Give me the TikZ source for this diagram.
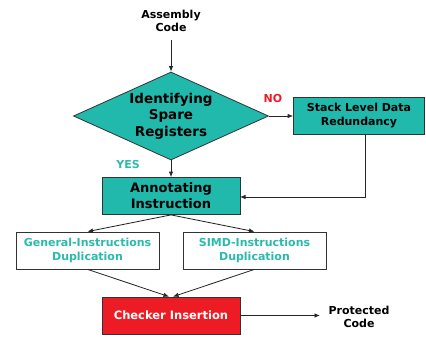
\documentclass[tikz,border=0pt]{standalone}
\usepackage{fontspec}
\setmainfont{DejaVu Sans}
\usetikzlibrary{shapes.geometric,arrows.meta}
\definecolor{tealfill}{HTML}{20B9AC}
\definecolor{tealtext}{HTML}{2BBBAD}
\definecolor{redfill}{HTML}{ED1C24}
\begin{document}
\begin{tikzpicture}[x=1pt,y=-1pt,
  every node/.style={align=center, inner sep=0pt},
  box/.style={draw=black!80, line width=0.8pt, minimum width=#1, minimum height=37pt},
  box/.default=138pt,
  arr/.style={-{Latex[length=5.5pt,width=4.5pt]}, line width=0.8pt, draw=black!85},
  fs/.style 2 args={font=\bfseries\fontsize{#1}{#2}\selectfont}]
\useasboundingbox (0,0) rectangle (426,337);

% input and decision
\node[fs={11}{13}] (in) at (171,21) {Assembly\\Code};
\node[diamond, aspect=2.2, fill=tealfill, draw=black!80, line width=0.8pt,
      minimum width=195pt, minimum height=88pt] (dec) at (171,116) {};
\node[fs={13.5}{16.5}] at (dec) {Identifying\\Spare\\Registers};

% process boxes
\node[box, fill=tealfill, minimum width=131pt, fs={11}{14}] (stack) at (359,116) {Stack Level Data\\Redundancy};
\node[box, fill=tealfill, fs={13}{16}] (ann) at (171,196) {Annotating\\Instruction};
\node[box=143pt, fill=white, text=tealtext, fs={11}{13.5}] (gen) at (87.5,250.5) {General-Instructions\\Duplication};
\node[box=143pt, fill=white, text=tealtext, fs={11}{13.5}] (simd) at (254.5,250.5) {SIMD-Instructions\\Duplication};
\node[box, fill=redfill, text=white, fs={11.5}{14}] (chk) at (171,315.5) {Checker Insertion};
\node[fs={11}{13}] (out) at (359,316.5) {Protected\\Code};

% branch labels
\node[fs={11}{13}, text=redfill] at (273,98) {NO};
\node[fs={11}{13}, text=tealtext] at (128,164) {YES};

% feedback route and free ends
\coordinate (sb) at (365,134.5);
\coordinate (bend) at (365,197);
\coordinate (ae) at (240,197);
\coordinate (inb) at (171,40);
\coordinate (outw) at (320,315.5);

% connectors
\draw[arr] (inb) -- (dec.north);
\draw[arr] (dec.east) -- (stack.west);
\draw[arr] (dec.south) -- (ann.north);
\draw[arr] (sb) -- (bend) -- (ae);
\draw[arr] (ann.south) -- (gen.north);
\draw[arr] (ann.south) -- (simd.north);
\draw[arr] (gen.south) -- ([xshift=-2pt]chk.north);
\draw[arr] (simd.south) -- ([xshift=2pt]chk.north);
\draw[arr] (chk.east) -- (outw);
\end{tikzpicture}
\end{document}
